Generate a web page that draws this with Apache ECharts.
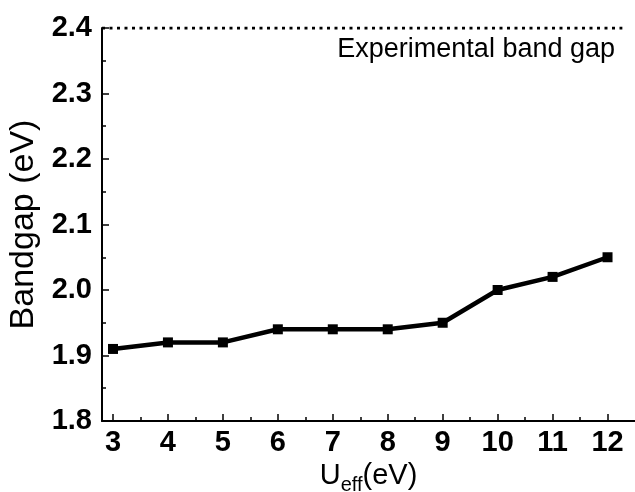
<!DOCTYPE html>
<html lang="en">
<head>
    <meta charset="UTF-8">
    <title>Bandgap vs Ueff</title>
    <script src="https://cdn.jsdelivr.net/npm/echarts@6/dist/echarts.min.js"></script>
    <style>
        html, body { margin: 0; padding: 0; background: #fff; }
        #chart { width: 635px; height: 492px; }
    </style>
</head>
<body>
    <div id="chart"></div>
    <script>
        // data
        const uEff = [3, 4, 5, 6, 7, 8, 9, 10, 11, 12];
        const bandgap = [1.91, 1.92, 1.92, 1.94, 1.94, 1.94, 1.95, 2.00, 2.02, 2.05];
        const expGapX = [2.8, 12.27];
        const expGapY = [2.4, 2.4];
        const majorTicksX = [3, 4, 5, 6, 7, 8, 9, 10, 11, 12];
        const minorTicksX = [3.5, 4.5, 5.5, 6.5, 7.5, 8.5, 9.5, 10.5, 11.5];
        const expLabel = 'Experimental band gap';

        const font = 'Liberation Sans, Arial, sans-serif';

        const chart = echarts.init(document.getElementById('chart'));
        chart.setOption({
            animation: false,
            grid: { left: 102, right: 0, top: 28, bottom: 71, outerBoundsMode: 'none', containLabel: false },
            xAxis: [
                {
                    type: 'value', position: 'bottom', min: 2.8, max: 12.5,
                    axisLine: { show: true, lineStyle: { color: '#000', width: 2 } },
                    axisTick: { show: true, inside: true, length: 7, customValues: majorTicksX,
                        lineStyle: { color: '#000', width: 1.5 } },
                    axisLabel: { show: true, customValues: majorTicksX, margin: 7,
                        color: '#000', fontFamily: font, fontWeight: 'bold', fontSize: 29 },
                    splitLine: { show: false },
                    name: 'U{sub|eff}(eV)',
                    nameLocation: 'middle',
                    nameGap: 32,
                    nameTextStyle: {
                        color: '#000', fontFamily: font, fontSize: 29,
                        rich: { sub: { fontFamily: font, fontSize: 20, color: '#000', verticalAlign: 'bottom', padding: [18, 0, 0, 0] } }
                    }
                },
                {
                    type: 'value', position: 'bottom', min: 2.8, max: 12.5,
                    axisLine: { show: false },
                    axisTick: { show: true, inside: true, length: 4, customValues: minorTicksX,
                        lineStyle: { color: '#000', width: 1.5 } },
                    axisLabel: { show: false },
                    splitLine: { show: false }
                }
            ],
            yAxis: {
                type: 'value', min: 1.8, max: 2.4, interval: 0.1,
                axisLine: { show: true, lineStyle: { color: '#000', width: 2 } },
                axisTick: { show: true, inside: true, length: 7, lineStyle: { color: '#000', width: 1.5 } },
                minorTick: { show: true, splitNumber: 2, length: 4, lineStyle: { color: '#000', width: 1.5 } },
                axisLabel: { margin: 10, color: '#000', fontFamily: font, fontWeight: 'bold', fontSize: 29,
                    formatter: v => v.toFixed(1) },
                splitLine: { show: false },
                name: 'Bandgap (eV)',
                nameLocation: 'middle',
                nameGap: 60,
                nameTextStyle: { color: '#000', fontFamily: font, fontSize: 34 }
            },
            graphic: [
                {
                    type: 'text', right: 20, top: 36,
                    style: { text: expLabel, fill: '#000', font: '27px ' + font }
                }
            ],
            series: [
                {
                    type: 'line',
                    data: expGapX.map((x, i) => [x, expGapY[i]]),
                    showSymbol: false,
                    lineStyle: { color: '#000', width: 3, type: [3, 4.5], cap: 'butt' }
                },
                {
                    type: 'line',
                    data: uEff.map((x, i) => [x, bandgap[i]]),
                    symbol: 'rect',
                    symbolSize: 10,
                    itemStyle: { color: '#000' },
                    lineStyle: { color: '#000', width: 4.5 }
                }
            ]
        });
    </script>
</body>
</html>
